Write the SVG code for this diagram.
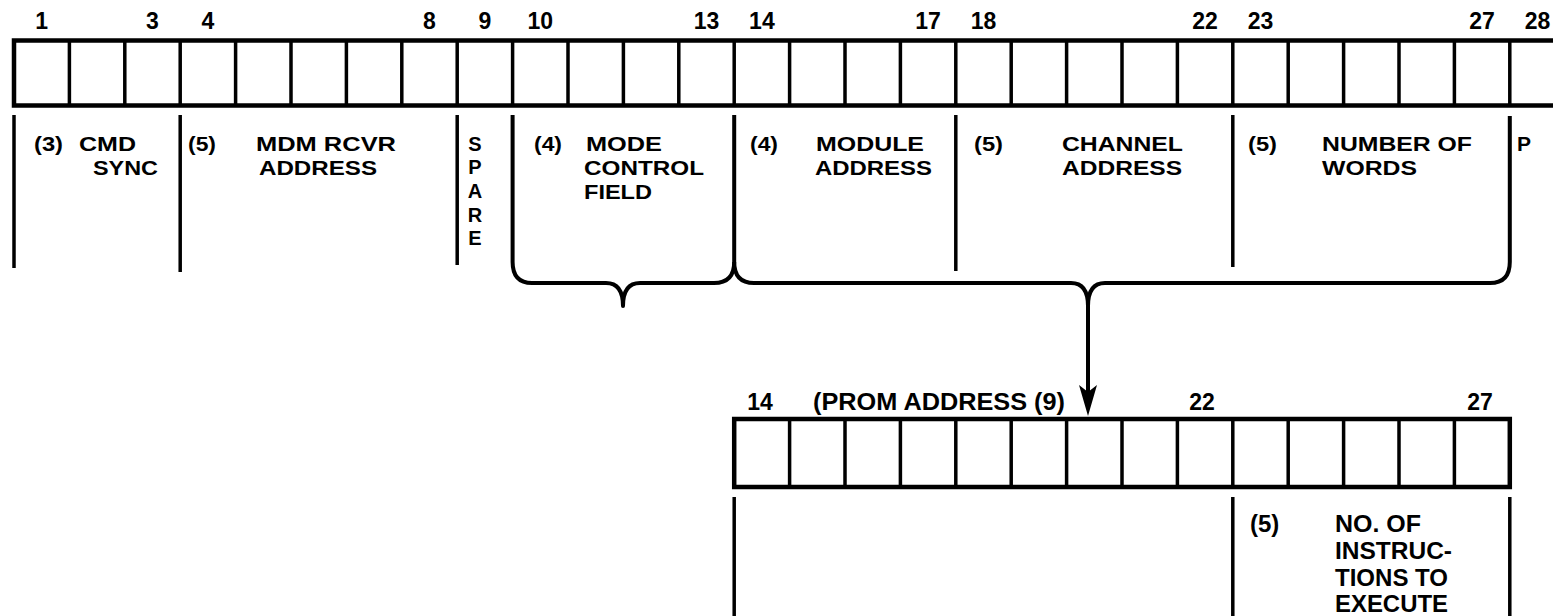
<svg xmlns="http://www.w3.org/2000/svg" width="1553" height="616" viewBox="0 0 1553 616">
<defs>
<style>
.t{font-family:"Liberation Sans",Arial,sans-serif;font-weight:bold;fill:#000}
.n{font-size:23px;text-anchor:middle}
.l{font-size:21px}
.s{font-size:20px;text-anchor:middle}
.b{font-size:24px}
.box{fill:none;stroke:#000;stroke-width:4.5}
.cell{fill:none;stroke:#000;stroke-width:3.5}
.sep{fill:none;stroke:#000;stroke-width:3.5}
.brace{fill:none;stroke:#000;stroke-width:4;stroke-linejoin:round}
.head{fill:#000;stroke:none}
</style>
</defs>
<rect width="1553" height="616" fill="#fff"/>

<g id="top-register">
<rect class="box" x="14" y="40.5" width="1551" height="65"/>
<path class="cell" d="M69.4,40.5V105.5M124.8,40.5V105.5M180.2,40.5V105.5M235.6,40.5V105.5M291,40.5V105.5M346.4,40.5V105.5M401.8,40.5V105.5M457.2,40.5V105.5M512.6,40.5V105.5M568,40.5V105.5M623.4,40.5V105.5M678.8,40.5V105.5M734.2,40.5V105.5M789.6,40.5V105.5M845,40.5V105.5M900.4,40.5V105.5M955.8,40.5V105.5M1011.2,40.5V105.5M1066.6,40.5V105.5M1122,40.5V105.5M1177.4,40.5V105.5M1232.8,40.5V105.5M1288.2,40.5V105.5M1343.6,40.5V105.5M1399,40.5V105.5M1454.4,40.5V105.5M1509.8,40.5V105.5"/>
<g class="t n">
<text x="41.7" y="29">1</text>
<text x="152.5" y="29">3</text>
<text x="207.9" y="29">4</text>
<text x="429.5" y="29">8</text>
<text x="484.9" y="29">9</text>
<text x="540.3" y="29">10</text>
<text x="706.5" y="29">13</text>
<text x="761.9" y="29">14</text>
<text x="928.1" y="29">17</text>
<text x="983.5" y="29">18</text>
<text x="1205.1" y="29">22</text>
<text x="1260.5" y="29">23</text>
<text x="1482.1" y="29">27</text>
<text x="1537.5" y="29">28</text>
</g>
</g>

<g id="field-cmd-sync">
<path class="sep" d="M14,115V268"/>
<text class="t l" x="34" y="151" textLength="29" lengthAdjust="spacingAndGlyphs">(3)</text>
<text class="t l" x="79" y="151" textLength="57" lengthAdjust="spacingAndGlyphs">CMD</text>
<text class="t l" x="93" y="175" textLength="65" lengthAdjust="spacingAndGlyphs">SYNC</text>
</g>

<g id="field-mdm-rcvr">
<path class="sep" d="M180.2,115V272"/>
<text class="t l" x="188" y="151" textLength="28" lengthAdjust="spacingAndGlyphs">(5)</text>
<text class="t l" x="256" y="151" textLength="140" lengthAdjust="spacingAndGlyphs">MDM RCVR</text>
<text class="t l" x="259" y="175" textLength="118" lengthAdjust="spacingAndGlyphs">ADDRESS</text>
</g>

<g id="field-spare">
<path class="sep" d="M457.2,115V265"/>
<g class="t s">
<text x="475" y="151">S</text>
<text x="475" y="174">P</text>
<text x="475" y="198">A</text>
<text x="475" y="222">R</text>
<text x="475" y="245">E</text>
</g>
</g>

<g id="field-mode-control">
<text class="t l" x="534" y="151" textLength="28" lengthAdjust="spacingAndGlyphs">(4)</text>
<text class="t l" x="586" y="151" textLength="76" lengthAdjust="spacingAndGlyphs">MODE</text>
<text class="t l" x="584" y="175" textLength="120" lengthAdjust="spacingAndGlyphs">CONTROL</text>
<text class="t l" x="584" y="199" textLength="68" lengthAdjust="spacingAndGlyphs">FIELD</text>
</g>

<g id="field-module-address">
<text class="t l" x="750" y="151" textLength="28" lengthAdjust="spacingAndGlyphs">(4)</text>
<text class="t l" x="816" y="151" textLength="108" lengthAdjust="spacingAndGlyphs">MODULE</text>
<text class="t l" x="815" y="175" textLength="117" lengthAdjust="spacingAndGlyphs">ADDRESS</text>
</g>

<g id="field-channel-address">
<path class="sep" d="M955.8,115V271"/>
<text class="t l" x="974" y="151" textLength="29" lengthAdjust="spacingAndGlyphs">(5)</text>
<text class="t l" x="1062" y="151" textLength="121" lengthAdjust="spacingAndGlyphs">CHANNEL</text>
<text class="t l" x="1062" y="175" textLength="120" lengthAdjust="spacingAndGlyphs">ADDRESS</text>
</g>

<g id="field-number-of-words">
<path class="sep" d="M1232.8,115V267"/>
<text class="t l" x="1248" y="151" textLength="29" lengthAdjust="spacingAndGlyphs">(5)</text>
<text class="t l" x="1322" y="151" textLength="150" lengthAdjust="spacingAndGlyphs">NUMBER OF</text>
<text class="t l" x="1322" y="175" textLength="95" lengthAdjust="spacingAndGlyphs">WORDS</text>
</g>

<g id="field-parity">
<text class="t l" x="1517" y="151">P</text>
</g>

<g id="connectors">
<path class="brace" d="M512.6,115V262Q512.6,283 532,283H606Q623,283 623,306Q623,283 640,283H714Q734.2,283 734.2,262V115"/>
<path class="brace" d="M734.2,262Q734.2,283 754,283H1071Q1088,283 1088,306Q1088,283 1105,283H1490Q1509.8,283 1509.8,262V116"/>
<path class="brace" d="M1088,306V394"/>
<polygon class="head" points="1079,385 1088,392 1097,385 1088,416"/>
</g>

<g id="bottom-register">
<rect class="box" x="734.2" y="419" width="775.6" height="68"/>
<path class="cell" d="M789.6,419V487M845,419V487M900.4,419V487M955.8,419V487M1011.2,419V487M1066.6,419V487M1122,419V487M1177.4,419V487M1232.8,419V487M1288.2,419V487M1343.6,419V487M1399,419V487M1454.4,419V487"/>
<text class="t n" x="760" y="410">14</text>
<text class="t b" x="813" y="410" textLength="252" lengthAdjust="spacingAndGlyphs">(PROM ADDRESS (9)</text>
<text class="t n" x="1202" y="410">22</text>
<text class="t n" x="1480" y="410">27</text>
</g>

<g id="field-prom-address">
<path class="sep" d="M734.2,497V616"/>
</g>

<g id="field-no-of-instructions">
<path class="sep" d="M1232.8,497V616M1509.8,497V616"/>
<text class="t b" x="1250" y="532">(5)</text>
<text class="t b" x="1335" y="532" textLength="86" lengthAdjust="spacingAndGlyphs">NO. OF</text>
<text class="t b" x="1335" y="559" textLength="117" lengthAdjust="spacingAndGlyphs">INSTRUC-</text>
<text class="t b" x="1335" y="586" textLength="113" lengthAdjust="spacingAndGlyphs">TIONS TO</text>
<text class="t b" x="1335" y="612" textLength="113" lengthAdjust="spacingAndGlyphs">EXECUTE</text>
</g>
</svg>
